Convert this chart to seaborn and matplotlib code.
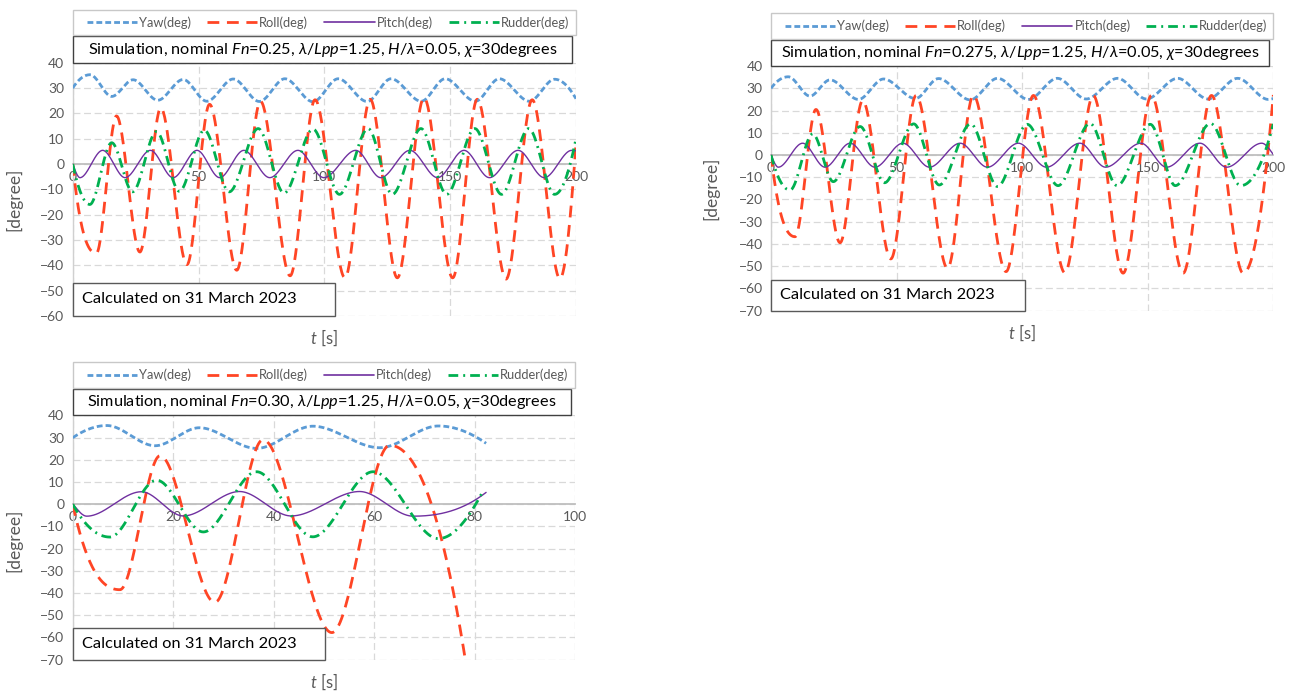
import numpy as np
import matplotlib
matplotlib.use("Agg")
import matplotlib.pyplot as plt
import seaborn as sns
from matplotlib.patches import Rectangle
from matplotlib.lines import Line2D

# ---------------- data (extrema + end points) ----------------
# Panel A : Fn = 0.25
a_yaw_t = [0, 6.9, 15.5, 24.0, 33.8, 43.9, 53.3, 63.8, 74.2, 84.3, 95.5, 105.5, 117.0, 126.5, 138.5, 148.0, 160.0, 169.5, 181.5, 191.5, 200]
a_yaw = [30.0, 35.3, 26.7, 33.3, 25.2, 33.4, 24.8, 33.6, 24.7, 33.7, 24.6, 33.7, 24.7, 33.7, 24.8, 33.7, 24.8, 33.7, 24.8, 33.5, 25.8]
a_roll_t = [0, 9.4, 17.4, 26.7, 35.0, 45.4, 54.4, 65.2, 74.6, 86.4, 96.3, 108.2, 118.2, 129.0, 139.6, 151.0, 160.8, 172.2, 182.6, 193.6, 200]
a_roll = [0, -35.3, 19.0, -34.8, 22.2, -39.8, 23.6, -42.0, 24.8, -44.2, 25.4, -45.0, 25.6, -45.0, 26.2, -45.0, 25.6, -45.5, 25.4, -45.3, 8.0]
a_pitch_t = [0, 2.9, 11.9, 20.8, 30.9, 39.9, 49.4, 58.4, 68.0, 78.3, 89.5, 99.8, 112.5, 122.4, 134.0, 145.0, 155.5, 165.6, 177.0, 187.4, 198.3, 200]
a_pitch = [0, -5.4, 5.4, -5.4, 5.4, -5.4, 5.4, -5.4, 5.4, -5.4, 5.4, -5.4, 5.4, -5.4, 5.4, -5.4, 5.4, -5.4, 5.4, -5.4, 5.4, 5.2]
a_rud_t = [0, 6.8, 15.5, 23.8, 33.3, 42.4, 52.3, 62.2, 73.7, 84.0, 95.5, 106.0, 117.4, 127.0, 138.4, 148.6, 159.8, 170.4, 181.2, 191.5, 200]
a_rud = [0, -16.0, 8.4, -11.0, 12.8, -10.8, 13.4, -11.0, 14.0, -11.5, 13.8, -12.0, 14.0, -12.0, 14.0, -12.0, 14.0, -12.0, 14.0, -12.0, 10.0]

# Panel B : Fn = 0.275
b_yaw_t = [0, 6.9, 15.5, 23.5, 34.8, 44.8, 57.5, 66.7, 79.3, 90.2, 102.5, 114.0, 125.5, 138.0, 149.5, 161.9, 174.0, 185.8, 198.0, 200]
b_yaw = [30.0, 35.2, 26.5, 33.8, 25.0, 34.2, 25.4, 34.4, 24.8, 34.5, 25.0, 34.5, 25.2, 34.5, 25.2, 34.5, 25.2, 34.5, 25.0, 25.4]
b_roll_t = [0, 9.6, 17.9, 27.5, 36.5, 47.7, 57.8, 70.3, 80.6, 93.6, 104.5, 117.0, 128.3, 140.2, 151.5, 164.1, 175.4, 188.0, 200]
b_roll = [0, -36.8, 20.5, -39.5, 24.5, -46.8, 26.8, -51.0, 26.8, -52.5, 26.8, -53.0, 26.8, -53.2, 26.8, -53.2, 26.8, -53.2, 27.0]
b_pitch_t = [0, 2.9, 12.6, 21.5, 31.5, 41.4, 52.5, 63.1, 75.3, 86.2, 98.5, 109.7, 123.0, 133.2, 147.3, 157.5, 170.8, 181.4, 195.4, 200]
b_pitch = [0, -5.5, 5.3, -5.5, 5.3, -5.5, 5.3, -5.5, 5.3, -5.5, 5.3, -5.5, 5.3, -5.5, 5.3, -5.5, 5.3, -5.5, 5.3, 0.2]
b_rud_t = [0, 7.6, 16.6, 24.8, 35.5, 45.2, 56.8, 67.0, 79.5, 90.2, 102.0, 114.3, 127.0, 137.8, 151.0, 161.0, 175.0, 187.0, 200]
b_rud = [0, -15.8, 9.5, -12.0, 12.8, -12.5, 14.0, -13.5, 14.0, -14.2, 13.8, -13.8, 14.2, -13.8, 13.8, -13.8, 14.2, -13.8, 14.0]

# Panel C : Fn = 0.30
c_yaw_t = [0, 6.8, 16.4, 25.2, 36.6, 47.8, 61.1, 72.8, 82.3]
c_yaw = [29.9, 35.4, 26.3, 34.4, 25.1, 35.1, 25.4, 35.2, 27.4]
c_roll_t = [0, 9.4, 17.4, 28.3, 37.9, 51.6, 63.1, 78.2]
c_roll = [0, -38.5, 21.8, -44.2, 29.0, -57.8, 26.5, -70.5]
c_pitch_t = [0, 2.8, 13.7, 22.0, 33.2, 43.5, 57.1, 67.8, 82.3]
c_pitch = [0, -5.4, 5.6, -5.3, 5.7, -5.3, 5.7, -5.4, 5.3]
c_rud_t = [0, 7.4, 16.7, 26.0, 36.6, 47.8, 59.8, 72.8, 81.5]
c_rud = [0, -14.8, 10.8, -12.5, 14.6, -14.7, 14.6, -15.5, 5.1]

series_names = ["Yaw(deg)", "Roll(deg)", "Pitch(deg)", "Rudder(deg)"]
titles = [
    r"Simulation, nominal $\mathit{Fn}$=0.25, $\mathit{λ/Lpp}$=1.25, $\mathit{H/λ}$=0.05, $\mathit{χ}$=30degrees",
    r"Simulation, nominal $\mathit{Fn}$=0.275, $\mathit{λ/Lpp}$=1.25, $\mathit{H/λ}$=0.05, $\mathit{χ}$=30degrees",
    r"Simulation, nominal $\mathit{Fn}$=0.30, $\mathit{λ/Lpp}$=1.25, $\mathit{H/λ}$=0.05, $\mathit{χ}$=30degrees",
]
note_text = "Calculated on 31 March 2023"

# ---------------- style ----------------
sns.set_style("white")
plt.rcParams["font.family"] = ["Lato", "DejaVu Sans"]
plt.rcParams["mathtext.fontset"] = "custom"
plt.rcParams["mathtext.rm"] = "Lato"
plt.rcParams["mathtext.it"] = "Lato:italic"
plt.rcParams["mathtext.fallback"] = "cm"
plt.rcParams["lines.scale_dashes"] = False

GRAY_TXT = "#595959"
styles = [
    dict(color="#5B9BD5", lw=2.0, ls=(0, (4.2, 2.2)), z=2.0),
    dict(color="#FF4525", lw=2.0, ls=(0, (8.5, 5.5)), z=2.1),
    dict(color="#7030A0", lw=1.0, ls="-", z=2.2),
    dict(color="#00B050", lw=2.0, ls=(0, (7.0, 3.6, 1.4, 3.6)), z=2.3),
]


def smooth(t, v, n=800):
    """Monotone cubic (Excel-like smoothed line) through the read points."""
    x = np.asarray(t, float)
    y = np.asarray(v, float)
    h = np.diff(x)
    delta = np.diff(y) / h
    d = np.zeros_like(y)
    for k in range(1, len(x) - 1):
        if delta[k - 1] * delta[k] > 0:
            w1 = 2 * h[k] + h[k - 1]
            w2 = h[k] + 2 * h[k - 1]
            d[k] = (w1 + w2) / (w1 / delta[k - 1] + w2 / delta[k])

    def end(h0, h1, d0, d1):
        s = ((2 * h0 + h1) * d0 - h0 * d1) / (h0 + h1)
        if np.sign(s) != np.sign(d0):
            s = 0.0
        elif np.sign(d0) != np.sign(d1) and abs(s) > abs(3 * d0):
            s = 3 * d0
        return s

    d[0] = end(h[0], h[1], delta[0], delta[1])
    d[-1] = end(h[-1], h[-2], delta[-1], delta[-2])
    xs = np.linspace(x[0], x[-1], n)
    k = np.clip(np.searchsorted(x, xs, side="right") - 1, 0, len(h) - 1)
    s = (xs - x[k]) / h[k]
    h00 = 2 * s**3 - 3 * s**2 + 1
    h10 = s**3 - 2 * s**2 + s
    h01 = -2 * s**3 + 3 * s**2
    h11 = s**3 - s**2
    ys = h00 * y[k] + h10 * h[k] * d[k] + h01 * y[k + 1] + h11 * h[k] * d[k + 1]
    return xs, ys


W, H = 1291, 692
fig = plt.figure(figsize=(W / 100, H / 100), dpi=100)
fig.patch.set_facecolor("white")


def add_panel(px, data, xmax, xstep, ymin, title, ylab_x, ylab_y, xlab_gap, note_w, note_h):
    left, right, top, bottom = px
    wpx, hpx = right - left, bottom - top
    ax = fig.add_axes([left / W, 1 - bottom / H, wpx / W, hpx / H])
    ax.set_facecolor("white")
    for (t, v), st in zip(data, styles):
        xs, ys = smooth(t, v)
        sns.lineplot(x=xs, y=ys, ax=ax, color=st["color"], linewidth=st["lw"],
                     zorder=st["z"], sort=False, estimator=None)
        ln = ax.lines[-1]
        ln.set_linestyle(st["ls"])
        ln.set_dash_capstyle("butt")
    ax.set_xlim(0, xmax)
    ax.set_ylim(ymin, 40)
    ax.set_xticks(np.arange(0, xmax + 1, xstep))
    ax.set_yticks(np.arange(ymin, 41, 10))
    ax.grid(True, color="#d9d9d9", linestyle=(0, (5, 2.6)), linewidth=0.9)
    ax.set_axisbelow(True)
    for sp in ["top", "right"]:
        ax.spines[sp].set_visible(False)
    ax.spines["bottom"].set_position(("data", 0))
    ax.spines["bottom"].set_color("#bfbfbf")
    ax.spines["bottom"].set_linewidth(1.3)
    ax.spines["bottom"].set_zorder(1.5)
    ax.spines["left"].set_color("#d0d0d0")
    ax.spines["left"].set_linewidth(1.0)
    ax.spines["left"].set_zorder(1.5)
    ax.tick_params(length=0, labelsize=10, labelcolor=GRAY_TXT)
    ax.tick_params(axis="y", pad=6)
    ax.tick_params(axis="x", pad=5)
    ax.set_ylabel("[degree]", fontsize=12.5, color=GRAY_TXT)
    ax.yaxis.set_label_coords(ylab_x / wpx, ylab_y)
    ax.set_xlabel(r"$\mathit{t}$ [s]", fontsize=12, color=GRAY_TXT)
    ax.xaxis.set_label_coords(0.5, -xlab_gap / hpx)

    # title box
    tb_h = 26
    ax.add_patch(Rectangle((0, 1 + 0.3 / hpx), 1 - 4 / wpx, tb_h / hpx, transform=ax.transAxes,
                           facecolor="white", edgecolor="#404040", lw=1.0, clip_on=False, zorder=5))
    ax.text(0.5 * (1 - 4 / wpx), 1 + (0.3 + tb_h / 2) / hpx, title, transform=ax.transAxes,
            ha="center", va="center", fontsize=11.7, color="black", zorder=6)
    # legend box
    lg_bot, lg_h = 27.5, 25.5
    ax.add_patch(Rectangle((0, 1 + lg_bot / hpx), 1, lg_h / hpx, transform=ax.transAxes,
                           facecolor="white", edgecolor="#c8c8c8", lw=1.0, clip_on=False, zorder=5))
    handles = [Line2D([0], [0], color=st["color"], lw=st["lw"] if st["lw"] > 1.2 else 1.2,
                      linestyle=st["ls"]) for st in styles]
    leg = ax.legend(handles, series_names, loc="center",
                    bbox_to_anchor=(0.025, 1 + lg_bot / hpx, 0.965, lg_h / hpx),
                    mode="expand", ncol=4, frameon=False, fontsize=9.3, handlelength=3.9,
                    handletextpad=0.15, columnspacing=0.8, borderaxespad=0, borderpad=0.1,
                    labelcolor=GRAY_TXT)
    leg.set_zorder(7)
    # note box
    ax.add_patch(Rectangle((0, 0), note_w / wpx, note_h / hpx, transform=ax.transAxes,
                           facecolor="white", edgecolor="#595959", lw=1.0, clip_on=False, zorder=5))
    ax.text(9 / wpx, note_h / 2 / hpx, note_text, transform=ax.transAxes, ha="left",
            va="center", fontsize=11.8, color="black", zorder=6)
    return ax


add_panel((72.7, 576, 62.8, 315.8),
          [(a_yaw_t, a_yaw), (a_roll_t, a_roll), (a_pitch_t, a_pitch), (a_rud_t, a_rud)],
          200, 50, -60, titles[0], -50, 0.46, 12, 262, 33)
add_panel((771, 1273.3, 66.1, 310.5),
          [(b_yaw_t, b_yaw), (b_roll_t, b_roll), (b_pitch_t, b_pitch), (b_rud_t, b_rud)],
          200, 50, -70, titles[1], -52, 0.5, 12, 254, 31)
add_panel((72.7, 575, 415.3, 659.7),
          [(c_yaw_t, c_yaw), (c_roll_t, c_roll), (c_pitch_t, c_pitch), (c_rud_t, c_rud)],
          100, 20, -70, titles[2], -50, 0.49, 12, 252, 32)

fig.savefig("out.png", dpi=100, facecolor="white")
